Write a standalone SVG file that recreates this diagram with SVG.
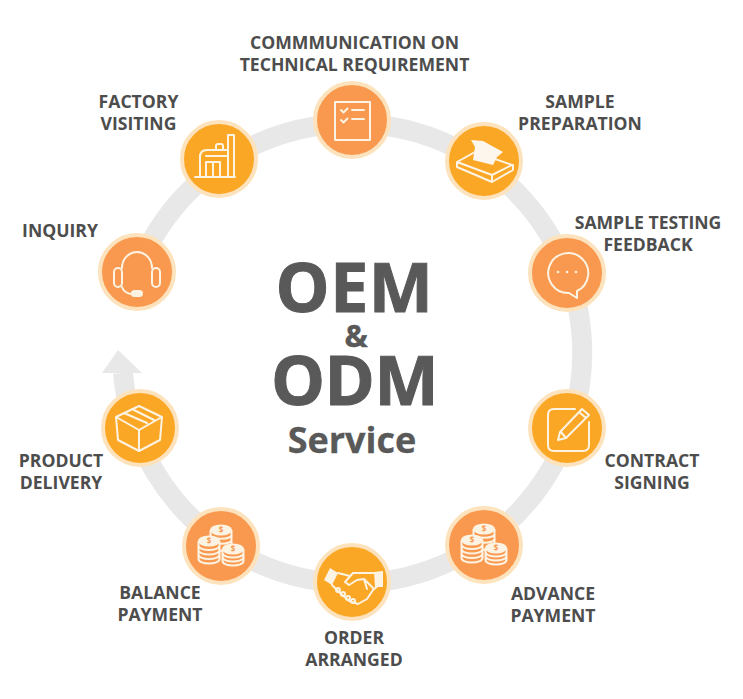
<svg xmlns="http://www.w3.org/2000/svg" width="743" height="699" viewBox="0 0 743 699">
<style>
.lb{font-family:"Open Sans","Liberation Sans",sans-serif;font-weight:700;font-size:17.6px;fill:#4d4d4d;text-anchor:middle}
.big{font-family:"Open Sans","Liberation Sans",sans-serif;font-weight:700;fill:#595959;stroke:#595959;text-anchor:middle}
.o{fill:#f9994f;stroke:#fde3bd;stroke-width:4}
.a{fill:#fba726;stroke:#fde3bd;stroke-width:4}
.i{fill:none;stroke:#fdf3e3;stroke-width:2;stroke-linejoin:round;stroke-linecap:round}
.c{fill:#f9994f;stroke:#fdf3e3;stroke-width:2;stroke-linejoin:round}
.e{fill:#fdf3e3;stroke:none}
.t{font-family:"Open Sans","Liberation Sans",sans-serif;font-weight:700;font-size:8px;fill:#f9994f;text-anchor:middle}
</style>
<defs>
<g id="coins">
<path class="c" d="M-10.500-16v17c0 5 21 5 21 0v-17M-10.500-11c0 5 21 5 21 0M-10.500-6c0 5 21 5 21 0"/>
<ellipse class="e" cx="0" cy="-16" rx="11" ry="5.500"/>
<path class="c" d="M-22.500-5v18c0 6 21 6 21 0v-18M-22.500-.5c0 6 21 6 21 0M-22.500 4c0 6 21 6 21 0M-22.500 8.500c0 6 21 6 21 0"/>
<ellipse class="e" cx="-12" cy="-5" rx="11" ry="5.500"/>
<path class="c" d="M1.500 3v12c0 6 21 6 21 0v-12M1.500 7c0 6 21 6 21 0M1.500 11c0 6 21 6 21 0"/>
<ellipse class="e" cx="12" cy="3" rx="11" ry="5.500"/>
<text class="t" x="0" y="-13">$</text><text class="t" x="-12" y="-2">$</text><text class="t" x="12" y="6">$</text>
</g>
</defs>
<g id="connectors">
<path d="M137 272A230 230 0 1 1 123 373" fill="none" stroke="#e8e8e8" stroke-width="20"/>
<polygon points="118,350 142,373 102,373" fill="#e8e8e8"/>
</g>
<g id="center-title">
<text class="big" x="354.500" y="312" font-size="68" letter-spacing=".5">OEM</text>
<text class="big" x="356" y="347" font-size="31" stroke-width=".4">&amp;</text>
<text class="big" x="354.500" y="405" font-size="68" letter-spacing="-.5">ODM</text>
<text class="big" x="352" y="453" font-size="36" stroke-width=".3">Service</text>
</g>
<g id="node-communication">
<circle class="o" cx="352" cy="120" r="37"/>
<g class="i" stroke-width="2.500"><rect x="335" y="102" width="35" height="38"/><path d="M341 110l2.500 2.500 4-4M341 120l2.500 2.500 4-4M352 110h12M352 119h12"/></g>
<text class="lb" x="354.500" y="49">COMMMUNICATION ON</text><text class="lb" x="354.500" y="71">TECHNICAL REQUIREMENT</text>
</g>
<g id="node-sample-preparation">
<circle class="a" cx="484" cy="161" r="37"/>
<g class="i"><path d="M457 162l18-10 37 13-20 10zM457 162v5l35 15 21-12v-5M492 175v7"/></g>
<path d="M471 140l12 1 20 11-6 5-4 8-20-5 2-13z" fill="#fdf6ec"/>
<text class="lb" x="580" y="108">SAMPLE</text><text class="lb" x="580" y="130">PREPARATION</text>
</g>
<g id="node-sample-testing">
<circle class="o" cx="567" cy="273" r="37"/>
<g class="i" stroke-width="2.500"><path d="M577 291a20 20 0 1 0-8 2h0l8 5z"/></g>
<g fill="#fdf3e3"><circle cx="558" cy="272" r="1.300"/><circle cx="567" cy="272" r="1.300"/><circle cx="576" cy="272" r="1.300"/></g>
<text class="lb" x="648" y="229">SAMPLE TESTING</text><text class="lb" x="648" y="251">FEEDBACK</text>
</g>
<g id="node-contract-signing">
<circle class="a" cx="567" cy="428" r="37"/>
<g class="i"><path d="M575 409h-21q-6 0-6 6v30q0 6 6 6h29q6 0 6-6v-23"/></g>
<g class="i"><path d="M582 409l7 6-23 23-8 2 2-8zM579 412l7 6M561 432l5 6"/></g>
<text class="lb" x="652" y="467">CONTRACT</text><text class="lb" x="652" y="489">SIGNING</text>
</g>
<g id="node-advance-payment">
<circle class="o" cx="484" cy="545" r="37"/>
<use href="#coins" x="484" y="545"/>
<text class="lb" x="553" y="600">ADVANCE</text><text class="lb" x="553" y="622">PAYMENT</text>
</g>
<g id="node-order-arranged">
<circle class="a" cx="352" cy="582" r="37"/>
<path d="M330 568l8 5-6 12-8-5zM374 572l9-1v16h-8z" fill="#fdf3e3"/>
<g class="i"><path d="M338 573l12 3M332 585l8 8 9 8 9 3 9-5 6-9 7-6M353 573h21M353 573l-8 9 4 3 8-5 7-1 9 9M364 579l3 10"/>
<circle cx="338" cy="590" r="2"/><circle cx="343" cy="594" r="2"/><circle cx="348" cy="598" r="2"/><circle cx="353" cy="601" r="2"/></g>
<text class="lb" x="354" y="644">ORDER</text><text class="lb" x="354" y="666">ARRANGED</text>
</g>
<g id="node-balance-payment">
<circle class="o" cx="221" cy="546" r="37"/>
<use href="#coins" x="221" y="546"/>
<text class="lb" x="160" y="599">BALANCE</text><text class="lb" x="160" y="621">PAYMENT</text>
</g>
<g id="node-product-delivery">
<circle class="a" cx="140" cy="428" r="37"/>
<g class="i" stroke-width="2.500"><path d="M139 406l23 11-2 23-21 11-21-11-2-23zM116 417l23 13 23-13M139 430v21M124 413l23 10M132 409l22 11"/></g>
<text class="lb" x="61" y="467">PRODUCT</text><text class="lb" x="61" y="489">DELIVERY</text>
</g>
<g id="node-inquiry">
<circle class="o" cx="137" cy="272" r="37"/>
<g class="i" stroke-width="2.500"><path d="M122 268a15 16 0 0 1 30 0"/><rect x="114" y="268" width="8" height="19" rx="4"/><rect x="152" y="268" width="8" height="19" rx="4"/><path d="M122 287q2 6 9 7"/></g>
<rect x="131" y="290" width="12" height="7" rx="3.500" fill="#fdf3e3"/>
<text class="lb" x="60" y="237">INQUIRY</text>
</g>
<g id="node-factory">
<circle class="a" cx="219" cy="159" r="37"/>
<g class="i"><path d="M195 177h40M200 177v-20q0-7 7-7h21M206 156h22M206 177v-15h14v15M213 162v15M216 150v-4q0-2 2-2h3q2 0 2 2v4M228 177v-42h6v42"/></g>
<text class="lb" x="138.500" y="108">FACTORY</text><text class="lb" x="138.500" y="130">VISITING</text>
</g>
</svg>
